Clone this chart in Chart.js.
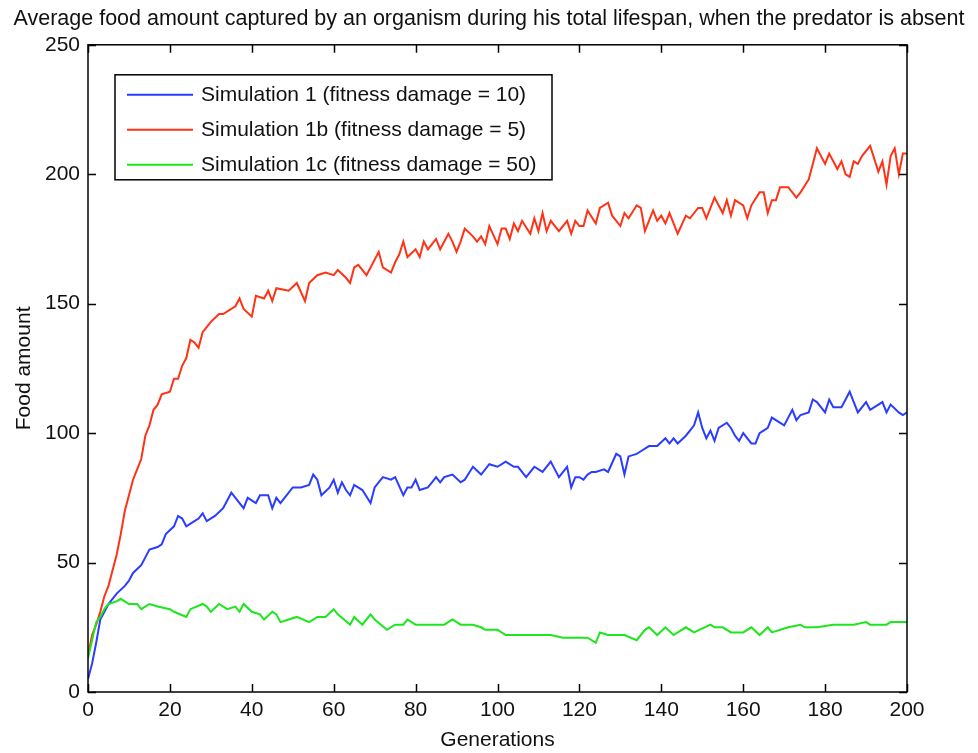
<!DOCTYPE html>
<html lang="en">
<head>
<meta charset="utf-8">
<title>Average food amount</title>
<script src="https://cdn.jsdelivr.net/npm/chart.js@4.4.1/dist/chart.umd.min.js"></script>
<style>
    html, body { margin: 0; padding: 0; background: #ffffff; }
    #chart { display: block; }
</style>
</head>
<body>
<canvas id="chart" width="978" height="753"></canvas>
<script>
// values (generation, average food amount)
const genSim1 = [0, 1, 2, 3, 4, 5, 6, 7, 9, 10, 11, 13, 14, 15, 17, 18, 19, 21, 22, 23, 24, 26, 27, 28, 29, 31, 33, 35, 36, 38, 39, 41, 42, 44, 45, 46, 47, 48, 50, 52, 54, 55, 56, 57, 59, 60, 61, 62, 63, 64, 65, 67, 69, 70, 72, 74, 75, 77, 78, 79, 80, 81, 83, 84, 85, 86, 87, 89, 91, 92, 94, 96, 98, 100, 102, 104, 105, 107, 109, 111, 113, 114, 115, 117, 118, 119, 120, 121, 122, 123, 124, 126, 127, 129, 130, 131, 132, 134, 135, 137, 139, 141, 142, 143, 144, 146, 147, 148, 149, 150, 151, 152, 153, 154, 156, 157, 158, 159, 160, 162, 163, 164, 166, 167, 170, 172, 173, 174, 176, 177, 178, 180, 181, 182, 184, 186, 187, 188, 190, 191, 194, 195, 196, 198, 199, 200];
const foodSim1 = [5, 11, 19, 28, 31, 34, 36, 38, 41, 43, 46, 49, 52, 55, 56, 57, 61, 64, 68, 67, 64, 66, 67, 69, 66, 68, 71, 77, 75, 71, 75, 73, 76, 76, 71, 75, 73, 75, 79, 79, 80, 84, 82, 76, 79, 82, 77, 81, 78, 76, 80, 78, 73, 79, 83, 82, 83, 76, 79, 79, 82, 78, 79, 81, 83, 81, 83, 84, 81, 82, 87, 84, 88, 87, 89, 87, 87, 83, 87, 85, 89, 86, 83, 87, 79, 83, 83, 82, 84, 85, 85, 86, 85, 92, 91, 84, 91, 92, 93, 95, 95, 98, 96, 98, 96, 99, 101, 103, 108, 102, 98, 101, 97, 102, 104, 102, 99, 97, 100, 96, 96, 100, 102, 106, 103, 109, 105, 107, 108, 113, 112, 108, 113, 110, 110, 116, 112, 108, 112, 109, 112, 108, 111, 108, 107, 108];

const genSim1b = [0, 1, 2, 3, 4, 5, 6, 7, 8, 9, 10, 11, 12, 13, 14, 15, 16, 17, 18, 20, 21, 22, 23, 24, 25, 26, 27, 28, 30, 32, 33, 36, 37, 38, 40, 41, 43, 44, 45, 46, 49, 51, 53, 54, 56, 58, 60, 61, 63, 64, 65, 66, 68, 69, 71, 72, 74, 75, 76, 77, 78, 80, 81, 82, 83, 85, 86, 88, 89, 90, 91, 92, 94, 95, 96, 97, 98, 100, 101, 102, 103, 104, 105, 106, 108, 109, 110, 111, 112, 113, 115, 117, 118, 119, 120, 121, 122, 124, 125, 127, 128, 130, 131, 132, 134, 135, 136, 138, 139, 140, 141, 142, 144, 146, 147, 149, 150, 151, 153, 155, 156, 157, 158, 160, 161, 162, 164, 165, 166, 167, 168, 169, 171, 173, 174, 176, 177, 178, 180, 181, 183, 184, 185, 186, 187, 188, 189, 191, 193, 194, 195, 196, 197, 198, 199, 200];
const foodSim1b = [14, 22, 26, 31, 37, 41, 47, 53, 61, 70, 76, 82, 86, 90, 99, 103, 109, 111, 115, 116, 121, 121, 126, 129, 136, 135, 133, 139, 143, 146, 146, 149, 152, 148, 145, 153, 152, 155, 151, 156, 155, 158, 151, 158, 161, 162, 161, 163, 160, 158, 164, 165, 161, 164, 170, 164, 162, 166, 169, 174, 168, 171, 168, 174, 171, 175, 171, 177, 174, 170, 174, 179, 176, 174, 176, 173, 180, 173, 179, 179, 175, 181, 178, 182, 177, 183, 178, 185, 178, 182, 178, 182, 177, 182, 180, 180, 186, 181, 187, 189, 184, 180, 185, 183, 188, 187, 178, 186, 182, 184, 181, 185, 177, 184, 183, 187, 187, 183, 191, 185, 190, 184, 190, 188, 183, 188, 193, 193, 185, 190, 190, 195, 195, 191, 193, 198, 204, 210, 204, 208, 202, 205, 200, 199, 205, 204, 207, 211, 201, 205, 196, 207, 210, 200, 208, 208];

const genSim1c = [0, 1, 2, 3, 4, 5, 7, 8, 10, 12, 13, 15, 17, 20, 21, 24, 25, 28, 29, 30, 32, 34, 36, 37, 38, 40, 42, 43, 45, 46, 47, 49, 51, 54, 56, 58, 60, 61, 64, 65, 67, 69, 70, 73, 75, 77, 78, 80, 84, 87, 89, 91, 94, 96, 97, 100, 102, 105, 108, 110, 113, 116, 118, 122, 124, 125, 127, 131, 134, 136, 137, 139, 141, 143, 146, 148, 152, 153, 155, 157, 160, 162, 164, 166, 167, 171, 174, 175, 178, 182, 185, 187, 190, 191, 195, 196, 200];
const foodSim1c = [13, 20, 27, 29, 32, 34, 35, 36, 34, 34, 32, 34, 33, 32, 31, 29, 32, 34, 33, 31, 34, 32, 33, 31, 34, 31, 30, 28, 31, 30, 27, 28, 29, 27, 29, 29, 32, 30, 26, 29, 26, 30, 28, 24, 26, 26, 28, 26, 26, 26, 28, 26, 26, 25, 24, 24, 22, 22, 22, 22, 22, 21, 21, 21, 19, 23, 22, 22, 20, 24, 25, 22, 25, 22, 25, 23, 26, 25, 25, 23, 23, 25, 22, 25, 23, 25, 26, 25, 25, 26, 26, 26, 27, 26, 26, 27, 27];

const seriesLabels = [
    "Simulation 1 (fitness damage = 10)",
    "Simulation 1b (fitness damage = 5)",
    "Simulation 1c (fitness damage = 50)"
];
const seriesColors = ["#2a3cff", "#ff3216", "#1ee61e"];

const xTickValues = [0, 20, 40, 60, 80, 100, 120, 140, 160, 180, 200];
const yTickValues = [0, 50, 100, 150, 200, 250];

const chartTitle = "Average food amount captured by an organism during his total lifespan, when the predator is absent";
const xAxisTitle = "Generations";
const yAxisTitle = "Food amount";

(() => {
    "use strict";

    const fontFamily = "'Liberation Sans', Arial, Helvetica, sans-serif";
    const fontSize = 21;
    const titleFontSize = 21.5;
    const tickLength = 8;

    function toPoints(gens, values) {
        return gens.map((g, i) => ({ x: g, y: values[i] }));
    }

    function createDataset(index, gens, values, order) {
        return {
            label: seriesLabels[index],
            data: toPoints(gens, values),
            borderColor: seriesColors[index],
            backgroundColor: seriesColors[index],
            borderWidth: 2,
            pointRadius: 0,
            tension: 0,
            fill: false,
            order
        };
    }

    // MATLAB-like box with inward tick marks on all four sides
    const framePlugin = {
        id: "frame",
        afterDatasetsDraw(chart) {
            const { ctx, chartArea, scales } = chart;
            const { left, right, top, bottom } = chartArea;

            ctx.save();
            ctx.strokeStyle = "#000000";
            ctx.lineWidth = 1.5;
            ctx.strokeRect(left, top, right - left, bottom - top);

            ctx.beginPath();
            for (const value of xTickValues) {
                const px = Math.round(scales.x.getPixelForValue(value)) + 0.5;
                ctx.moveTo(px, bottom);
                ctx.lineTo(px, bottom - tickLength);
                ctx.moveTo(px, top);
                ctx.lineTo(px, top + tickLength);
            }
            for (const value of yTickValues) {
                const py = Math.round(scales.y.getPixelForValue(value)) + 0.5;
                ctx.moveTo(left, py);
                ctx.lineTo(left + tickLength, py);
                ctx.moveTo(right, py);
                ctx.lineTo(right - tickLength, py);
            }
            ctx.stroke();
            ctx.restore();
        }
    };

    // legend drawn as a boxed panel inside the plot area
    const legendBoxPlugin = {
        id: "legendBox",
        afterDraw(chart) {
            const { ctx, chartArea } = chart;
            const boxLeft = chartArea.left + 27;
            const boxTop = chartArea.top + 30;
            const boxWidth = 437;
            const boxHeight = 105;
            const rowHeight = 35;

            ctx.save();
            ctx.fillStyle = "#ffffff";
            ctx.fillRect(boxLeft, boxTop, boxWidth, boxHeight);
            ctx.strokeStyle = "#000000";
            ctx.lineWidth = 1.5;
            ctx.strokeRect(boxLeft, boxTop, boxWidth, boxHeight);

            ctx.font = fontSize + "px " + fontFamily;
            ctx.textAlign = "left";
            ctx.textBaseline = "middle";

            chart.data.datasets.forEach((dataset, i) => {
                const rowY = boxTop + 20 + i * rowHeight;
                ctx.strokeStyle = dataset.borderColor;
                ctx.lineWidth = 2;
                ctx.beginPath();
                ctx.moveTo(boxLeft + 12, rowY);
                ctx.lineTo(boxLeft + 78, rowY);
                ctx.stroke();

                ctx.fillStyle = "#111111";
                ctx.fillText(dataset.label, boxLeft + 86, rowY);
            });
            ctx.restore();
        }
    };

    function createTickOptions(padding) {
        return {
            color: "#111111",
            padding,
            autoSkip: false,
            maxRotation: 0,
            font: { size: fontSize, family: fontFamily }
        };
    }

    const canvas = document.getElementById("chart");

    new Chart(canvas, {
        type: "line",
        data: {
            datasets: [
                createDataset(0, genSim1, foodSim1, 3),
                createDataset(1, genSim1b, foodSim1b, 2),
                createDataset(2, genSim1c, foodSim1c, 1)
            ]
        },
        options: {
            responsive: false,
            animation: false,
            layout: { padding: 0 },
            scales: {
                x: {
                    type: "linear",
                    min: 0,
                    max: 200,
                    grid: { display: false, drawTicks: false },
                    border: { display: false },
                    ticks: createTickOptions(6),
                    afterBuildTicks: scale => {
                        scale.ticks = xTickValues.map(value => ({ value }));
                    },
                    afterFit: scale => {
                        scale.height = 61;
                    },
                    title: {
                        display: true,
                        text: xAxisTitle,
                        color: "#111111",
                        padding: { top: 0, bottom: 0 },
                        font: { size: fontSize, family: fontFamily, lineHeight: 1.2 }
                    }
                },
                y: {
                    type: "linear",
                    min: 0,
                    max: 250,
                    grid: { display: false, drawTicks: false },
                    border: { display: false },
                    ticks: createTickOptions(8),
                    afterBuildTicks: scale => {
                        scale.ticks = yTickValues.map(value => ({ value }));
                    },
                    afterFit: scale => {
                        scale.width = 88;
                    },
                    title: {
                        display: true,
                        text: yAxisTitle,
                        color: "#111111",
                        padding: { top: 12, bottom: 0 },
                        font: { size: fontSize, family: fontFamily, lineHeight: 1.2 }
                    }
                },
                // empty right-hand axis keeps the margin so the title centres on the page
                yRight: {
                    type: "linear",
                    position: "right",
                    min: 0,
                    max: 250,
                    grid: { display: false, drawTicks: false },
                    border: { display: false },
                    ticks: { display: false },
                    afterFit: scale => {
                        scale.width = 71;
                    }
                }
            },
            plugins: {
                legend: { display: false },
                tooltip: { enabled: false },
                title: {
                    display: true,
                    text: chartTitle,
                    color: "#111111",
                    padding: { top: 6, bottom: 13 },
                    font: { size: titleFontSize, family: fontFamily, weight: "normal", lineHeight: 1.2 }
                }
            }
        },
        plugins: [framePlugin, legendBoxPlugin]
    });
})();
</script>
</body>
</html>
